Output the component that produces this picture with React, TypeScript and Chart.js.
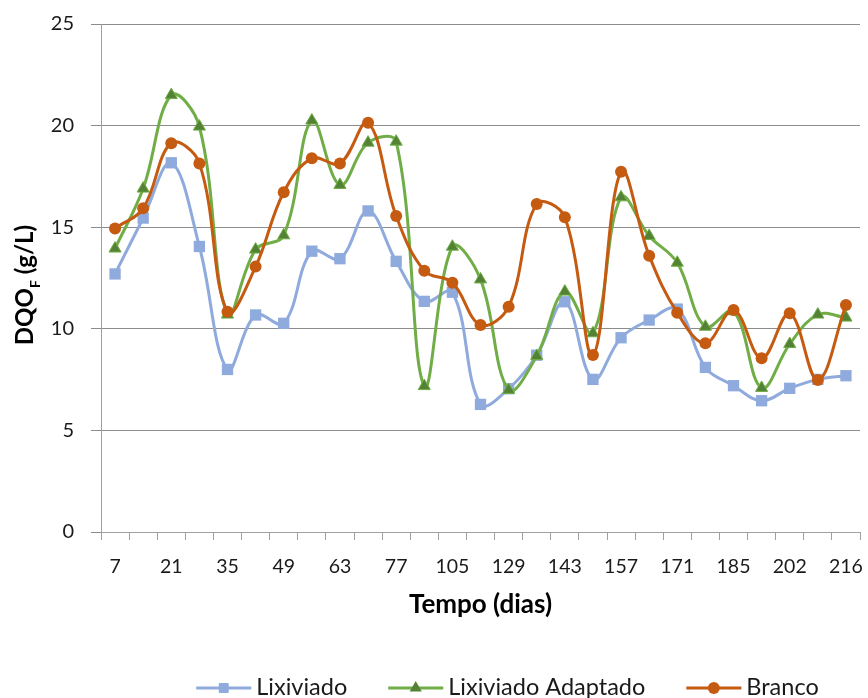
import React, { useEffect, useRef } from 'react';
import { Chart, registerables } from 'chart.js';

Chart.register(...registerables);

const days = ['7', '14', '21', '28', '35', '42', '49', '56', '63', '70', '77', '91', '105', '115', '129', '136', '143', '150', '157', '164', '171', '178', '185', '192', '202', '209', '216'];

const lixiviado = [12.7, 15.45, 18.17, 14.05, 8.0, 10.68, 10.27, 13.82, 13.45, 15.8, 13.32, 11.35, 11.8, 6.28, 7.05, 8.7, 11.33, 7.51, 9.56, 10.43, 10.97, 8.1, 7.2, 6.46, 7.07, 7.51, 7.69];

const lixiviadoAdaptado = [13.95, 16.9, 21.5, 19.95, 10.7, 13.9, 14.6, 20.25, 17.08, 19.16, 19.21, 7.18, 14.04, 12.43, 6.99, 8.66, 11.83, 9.78, 16.47, 14.57, 13.25, 10.1, 10.86, 7.09, 9.25, 10.7, 10.55];

const branco = [14.94, 15.93, 19.13, 18.14, 10.84, 13.06, 16.72, 18.39, 18.14, 20.14, 15.55, 12.86, 12.27, 10.19, 11.09, 16.14, 15.49, 8.71, 17.73, 13.6, 10.79, 9.29, 10.93, 8.55, 10.76, 7.48, 11.17];

const seriesNames = ['Lixiviado', 'Lixiviado Adaptado', 'Branco'];
const yMin = 0;
const yMax = 25;
const yStep = 5;
const xTitle = 'Tempo (dias)';
const yTitleMain = 'DQO';
const yTitleSub = 'F';
const yTitleRest = ' (g/L)';

const BLUE = '#8FAADC';
const GREEN = '#70AD47';
const GREEN_DARK = '#548235';
const ORANGE = '#C55A11';
const FONT = 'Lato, "Open Sans", sans-serif';
const TEXT = '#1a1a1a';

function drawMarker(ctx: CanvasRenderingContext2D, style: string, x: number, y: number, r: number, fill: string) {
  ctx.fillStyle = fill;
  ctx.beginPath();
  if (style === 'rect') {
    const s = r * Math.SQRT1_2;
    ctx.rect(x - s, y - s, 2 * s, 2 * s);
  } else if (style === 'triangle') {
    for (let k = 0; k < 3; k++) {
      const a = (k * 2 * Math.PI) / 3;
      const px = x + Math.sin(a) * r;
      const py = y - Math.cos(a) * r;
      if (k === 0) ctx.moveTo(px, py);
      else ctx.lineTo(px, py);
    }
    ctx.closePath();
  } else {
    ctx.arc(x, y, r * 0.85, 0, Math.PI * 2);
  }
  ctx.fill();
}

const customPlugin = {
  id: 'customText',
  afterDraw(chart: any) {
    const ctx: CanvasRenderingContext2D = chart.ctx;
    // Y axis title with subscript
    ctx.save();
    ctx.translate(33, 285);
    ctx.rotate(-Math.PI / 2);
    ctx.fillStyle = '#000';
    ctx.textBaseline = 'alphabetic';
    ctx.textAlign = 'left';
    const big = `bold 24px ${FONT}`;
    const small = `bold 14px ${FONT}`;
    ctx.font = big;
    const w1 = ctx.measureText(yTitleMain).width;
    const w3 = ctx.measureText(yTitleRest).width;
    ctx.font = small;
    const w2 = ctx.measureText(yTitleSub).width;
    let x = -(w1 + w2 + w3) / 2;
    ctx.font = big;
    ctx.fillText(yTitleMain, x, 0);
    x += w1;
    ctx.font = small;
    ctx.fillText(yTitleSub, x, 7);
    x += w2;
    ctx.font = big;
    ctx.fillText(yTitleRest, x, 0);
    ctx.restore();

    // Legend
    ctx.save();
    ctx.font = `23.5px ${FONT}`;
    ctx.textBaseline = 'middle';
    ctx.textAlign = 'left';
    const lineLen = 55;
    const gapText = 5;
    const gapItem = 41;
    const ds = chart.data.datasets;
    const widths = ds.map((d: any) => ctx.measureText(d.label).width);
    let total = 0;
    widths.forEach((w: number, i: number) => {
      total += lineLen + gapText + w + (i < widths.length - 1 ? gapItem : 0);
    });
    let lx = 507.5 - total / 2;
    const ly = 688;
    ds.forEach((d: any, i: number) => {
      ctx.strokeStyle = d.borderColor;
      ctx.lineWidth = 3;
      ctx.beginPath();
      ctx.moveTo(lx, ly);
      ctx.lineTo(lx + lineLen, ly);
      ctx.stroke();
      drawMarker(ctx, d.pointStyle, lx + lineLen / 2, ly, 7, d.pointBackgroundColor);
      ctx.fillStyle = TEXT;
      ctx.fillText(d.label, lx + lineLen + gapText, ly - 1);
      lx += lineLen + gapText + widths[i] + gapItem;
    });
    ctx.restore();
  },
};

export default function App() {
  const canvasRef = useRef<HTMLCanvasElement | null>(null);

  useEffect(() => {
    if (!canvasRef.current) return;
    const chart = new Chart(canvasRef.current, {
      type: 'line',
      data: {
        labels: days,
        datasets: [
          {
            label: seriesNames[0],
            data: lixiviado,
            borderColor: BLUE,
            backgroundColor: BLUE,
            pointBackgroundColor: BLUE,
            pointBorderColor: BLUE,
            pointStyle: 'rect',
            pointRadius: 8,
            pointBorderWidth: 0,
            borderWidth: 3,
            tension: 0.38,
            order: 2,
          },
          {
            label: seriesNames[1],
            data: lixiviadoAdaptado,
            borderColor: GREEN,
            backgroundColor: GREEN,
            pointBackgroundColor: GREEN_DARK,
            pointBorderColor: GREEN,
            pointStyle: 'triangle',
            pointRadius: 7,
            pointBorderWidth: 1,
            borderWidth: 3,
            tension: 0.38,
            order: 1,
          },
          {
            label: seriesNames[2],
            data: branco,
            borderColor: ORANGE,
            backgroundColor: ORANGE,
            pointBackgroundColor: ORANGE,
            pointBorderColor: ORANGE,
            pointStyle: 'circle',
            pointRadius: 6,
            pointBorderWidth: 0,
            borderWidth: 3,
            tension: 0.38,
            order: 0,
          },
        ],
      },
      options: {
        animation: false,
        responsive: true,
        maintainAspectRatio: false,
        layout: { padding: { left: 0, top: 24, right: 8, bottom: 66 } },
        plugins: {
          legend: { display: false },
          tooltip: { enabled: false },
        },
        scales: {
          x: {
            type: 'category',
            offset: true,
            grid: {
              display: true,
              drawOnChartArea: false,
              drawTicks: true,
              tickLength: 8,
              color: '#A0A0A0',
              offset: true,
            },
            border: { color: '#A0A0A0', width: 1 },
            ticks: {
              autoSkip: false,
              maxRotation: 0,
              minRotation: 0,
              padding: 15,
              color: TEXT,
              font: { family: FONT, size: 19.5 },
              callback: (_v: any, i: number) => (i % 2 === 0 ? days[i] : ''),
            },
            title: {
              display: true,
              text: xTitle,
              color: '#000',
              font: { family: FONT, size: 26, weight: 'bold' },
              padding: { top: 0, bottom: 12 },
            },
            afterFit: (scale: any) => {
              scale.height = 100;
              scale.paddingLeft = 0;
              scale.paddingRight = 0;
            },
          },
          y: {
            min: yMin,
            max: yMax,
            grid: {
              color: '#8C8C8C',
              tickLength: 10,
              drawTicks: true,
            },
            border: { color: '#A0A0A0', width: 1 },
            ticks: {
              stepSize: yStep,
              padding: 17,
              color: TEXT,
              font: { family: FONT, size: 20 },
            },
            afterFit: (scale: any) => {
              scale.width = 101;
              scale.paddingTop = 0;
              scale.paddingBottom = 0;
            },
          },
        },
      },
      plugins: [customPlugin],
    });
    return () => chart.destroy();
  }, []);

  return (
    <div style={{ position: 'absolute', left: 0, top: 0, width: 868, height: 698, background: '#fff' }}>
      <canvas ref={canvasRef} />
    </div>
  );
}
